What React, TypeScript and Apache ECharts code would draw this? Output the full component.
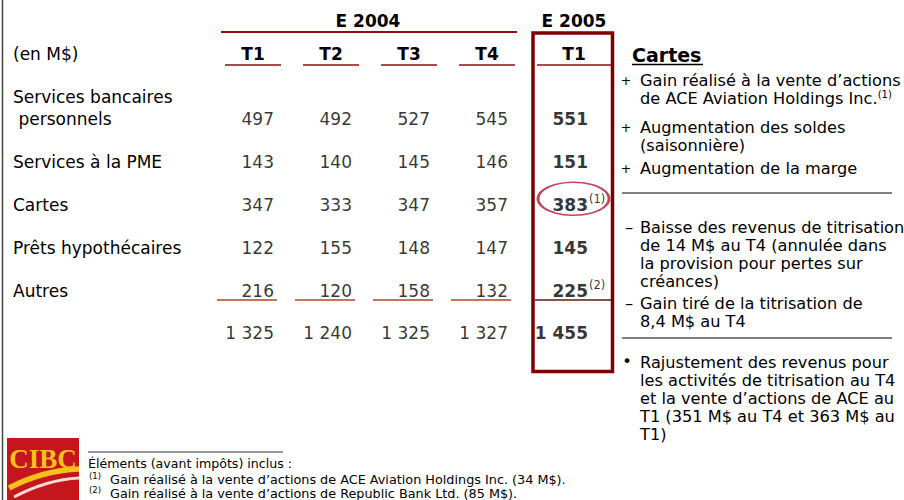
import React, { useEffect, useRef } from 'react';
import * as echarts from 'echarts';

// ---------- data ----------
const groupLabels = ['E 2004', 'E 2005'];
const quarters2004 = ['T1', 'T2', 'T3', 'T4'];
const quarters2005 = ['T1'];
const rowLabels = ['Services bancaires\n personnels', 'Services à la PME', 'Cartes', 'Prêts hypothécaires', 'Autres', 'Total'];
const bancaires2004 = [497, 492, 527, 545];
const pme2004 = [143, 140, 145, 146];
const cartes2004 = [347, 333, 347, 357];
const prets2004 = [122, 155, 148, 147];
const autres2004 = [216, 120, 158, 132];
const total2004 = [1325, 1240, 1325, 1327];
const values2005T1 = [551, 151, 383, 145, 225, 1455];
const footnoteRows = [2, 4];
const footnoteMarks = ['(1)', '(2)'];
const highlightRow = 2;

const notesTitle = 'Cartes';
const notesPlus = [
  ['Gain réalisé à la vente d’actions', 'de ACE Aviation Holdings Inc.'],
  ['Augmentation des soldes', '(saisonnière)'],
  ['Augmentation de la marge'],
];
const notesMinus = [
  ['Baisse des revenus de titrisation', 'de 14 M$ au T4 (annulée dans', 'la provision pour pertes sur', 'créances)'],
  ['Gain tiré de la titrisation de', '8,4 M$ au T4'],
];
const notesBullet = ['Rajustement des revenus pour', 'les activités de titrisation au T4', 'et la vente d’actions de ACE au', 'T1 (351 M$ au T4 et 363 M$ au', 'T1)'];
const footTitle = 'Éléments (avant impôts) inclus :';
const footNotes = [
  'Gain réalisé à la vente d’actions de ACE Aviation Holdings Inc. (34 M$).',
  'Gain réalisé à la vente d’actions de Republic Bank Ltd. (85 M$).',
];

// ---------- layout ----------
const FONT = 'DejaVu Sans';
const G1_LEFT = 214;
const COL_W = 78;
const G2_LEFT = 535;
const TOP = 97.5;
const ROW_H = 42.9;
const DARK_RED = '#7d0000';
const LINE_RED = '#920f0f';

const fmt = (v: number) => String(v).replace(/\B(?=(\d{3})+(?!\d))/g, ' ');

export default function App() {
  const ref = useRef<HTMLDivElement>(null);
  useEffect(() => {
    if (!ref.current) return;
    const chart = echarts.init(ref.current, undefined, { renderer: 'svg' });
    const values2004 = [bancaires2004, pme2004, cartes2004, prets2004, autres2004, total2004];
    const data1: any[] = [];
    values2004.forEach((row, ri) => row.forEach((v, qi) => data1.push([qi, ri, v])));
    const data2 = values2005T1.map((v, ri) => [0, ri, v]);
    const foot = footnoteRows.map((r, i) => [0, r, footnoteMarks[i]]);

    const colCenter = (i: number) => G1_LEFT + COL_W * (i + 0.5);
    const c5 = G2_LEFT + COL_W / 2;

    const graphics: any[] = [];
    const line = (x1: number, y1: number, x2: number, y2: number, stroke: string, lw: number) =>
      graphics.push({ type: 'line', shape: { x1, y1, x2, y2 }, style: { stroke, lineWidth: lw }, silent: true });
    const text = (t: string, x: number, y: number, o: any = {}) =>
      graphics.push({ type: 'text', x, y, style: { text: t, fontFamily: FONT, fontSize: 17, fill: '#000', align: 'left', verticalAlign: 'middle', ...o }, silent: true });

    // left border
    line(2.5, 0, 2.5, 500, '#444', 1.5);
    // group headers
    text(groupLabels[0], (G1_LEFT + G1_LEFT + 4 * COL_W) / 2 - 2, 21, { fontWeight: 'bold', align: 'center' });
    text(groupLabels[1], c5, 21, { fontWeight: 'bold', align: 'center' });
    line(221, 32, 517, 32, LINE_RED, 2);
    // quarter header underlines
    quarters2004.forEach((_, i) => line(colCenter(i) - 28, 65, colCenter(i) + 28, 65, LINE_RED, 1.5));
    line(c5 - 37, 65, c5 + 37, 65, LINE_RED, 1.5);
    // (en M$)
    text('(en M$)', 13, 54);
    // sums underlines
    quarters2004.forEach((_, i) => line(colCenter(i) - 36, 300, colCenter(i) + 24, 300, '#b4441c', 1.5));
    line(c5 - 39, 300, c5 + 37, 300, '#5e1a0c', 1.5);
    // box
    graphics.push({ type: 'rect', shape: { x: 533, y: 33, width: 79.5, height: 338.5 }, style: { fill: 'none', stroke: DARK_RED, lineWidth: 3.5 }, silent: true, z: 10 });

    // notes panel
    text(notesTitle, 632, 55, { fontWeight: 'bold', fontSize: 19 });
    line(632, 64.5, 703, 64.5, '#000', 1.5);
    const NX = 640;
    const NS = 18.2;
    const NF = 16.2;
    const plusY = [80, 127, 168];
    notesPlus.forEach((blk, bi) => {
      const y = plusY[bi];
      text('+', 626, y, { fontSize: 13, align: 'center' });
      blk.forEach((l, li) => {
        if (bi === 0 && li === 1) {
          graphics.push({ type: 'text', x: NX, y: y + li * NS, style: { text: '{n|' + l + '}{s|(1)}', fontFamily: FONT, fill: '#000', verticalAlign: 'middle', rich: { n: { fontSize: NF, fontFamily: FONT, lineHeight: 18 }, s: { fontSize: 10, fontFamily: FONT, verticalAlign: 'top', lineHeight: 12 } } }, silent: true });
        } else {
          text(l, NX, y + li * NS, { fontSize: NF });
        }
      });
    });
    line(622, 193, 892, 193, '#808080', 2);
    const minusY = [227, 303.5];
    notesMinus.forEach((blk, bi) => {
      const y = minusY[bi];
      text('–', 629, y, { fontSize: NF, align: 'center' });
      blk.forEach((l, li) => text(l, NX, y + li * 18.3, { fontSize: NF }));
    });
    line(622, 338, 892, 338, '#808080', 2);
    text('•', 627, 361, { fontSize: NF, align: 'center' });
    notesBullet.forEach((l, li) => text(l, NX, 362 + li * 18, { fontSize: NF }));

    // footer
    line(88, 452, 283, 452, '#333', 1);
    text(footTitle, 88, 463.5, { fontSize: 12.6, lineHeight: 13 });
    footNotes.forEach((f, i) => {
      text(footnoteMarks[i], 89, 475.5 + i * 14, { fontSize: 8.5 });
      text(f, 110, 479 + i * 14, { fontSize: 12.8, lineHeight: 13 });
    });

    // logo
    graphics.push({ type: 'rect', shape: { x: 7, y: 438, width: 72, height: 62 }, style: { fill: '#c4161c' }, silent: true });
    graphics.push({ type: 'text', x: 43, y: 459, style: { text: 'CIBC', fontFamily: 'Liberation Serif', fontWeight: 'bold', fontSize: 27, fill: '#f6c21a', align: 'center', verticalAlign: 'middle' }, silent: true });
    graphics.push({ type: 'bezierCurve', shape: { x1: 9, y1: 488, cpx1: 30, cpy1: 477, cpx2: 55, cpy2: 470, x2: 79, y2: 469 }, style: { stroke: '#f6c21a', lineWidth: 5.5, fill: 'none' }, silent: true });
    graphics.push({ type: 'bezierCurve', shape: { x1: 14, y1: 497, cpx1: 35, cpy1: 486, cpx2: 58, cpy2: 479, x2: 79, y2: 478 }, style: { stroke: '#f8dcd4', lineWidth: 3, fill: 'none' }, silent: true });

    const hiddenAxis = { axisLine: { show: false }, axisTick: { show: false }, splitLine: { show: false } };
    chart.setOption({
      animation: false,
      backgroundColor: '#fff',
      textStyle: { fontFamily: FONT },
      grid: [
        { left: G1_LEFT, top: TOP, width: COL_W * 4, height: ROW_H * 6 },
        { left: G2_LEFT, top: TOP, width: COL_W, height: ROW_H * 6 },
      ],
      xAxis: [
        { type: 'category', gridIndex: 0, position: 'top', data: quarters2004, ...hiddenAxis,
          axisLabel: { interval: 0, fontSize: 17, fontWeight: 'bold', color: '#000', margin: TOP - 54, verticalAlign: 'middle' } },
        { type: 'category', gridIndex: 1, position: 'top', data: quarters2005, ...hiddenAxis,
          axisLabel: { interval: 0, fontSize: 17, fontWeight: 'bold', color: '#000', margin: TOP - 54, verticalAlign: 'middle' } },
      ],
      yAxis: [
        { type: 'category', gridIndex: 0, inverse: true, data: rowLabels, ...hiddenAxis,
          axisLabel: { interval: 0, fontSize: 17, color: '#000', align: 'left', margin: G1_LEFT - 13, lineHeight: 22,
            formatter: (v: string, i: number) => (i === 0 ? v + '\n\u00a0' : i === rowLabels.length - 1 ? '' : v) } },
        { type: 'category', gridIndex: 1, inverse: true, data: rowLabels, ...hiddenAxis, axisLabel: { show: false } },
      ],
      graphic: graphics,
      series: [
        { type: 'scatter', xAxisIndex: 0, yAxisIndex: 0, data: data1, symbolSize: 1, itemStyle: { color: 'rgba(0,0,0,0)' },
          label: { show: true, position: 'inside', align: 'right', offset: [21, 0], fontSize: 17, color: '#000', formatter: (p: any) => fmt(p.value[2]) } },
        { type: 'scatter', xAxisIndex: 1, yAxisIndex: 1, data: [[0, highlightRow]], symbol: 'circle', symbolSize: [71, 33], symbolOffset: [-0.5, -6],
          itemStyle: { color: 'rgba(0,0,0,0)', borderColor: '#b0162e', borderWidth: 2 }, z: 1 },
        { type: 'scatter', xAxisIndex: 1, yAxisIndex: 1, data: data2, symbolSize: 1, itemStyle: { color: 'rgba(0,0,0,0)' }, z: 3,
          label: { show: true, position: 'inside', align: 'right', offset: [14, 0], fontSize: 17, fontWeight: 'bold', color: '#000', formatter: (p: any) => fmt(p.value[2]) } },
        { type: 'scatter', xAxisIndex: 1, yAxisIndex: 1, data: foot, symbolSize: 1, itemStyle: { color: 'rgba(0,0,0,0)' }, z: 3,
          label: { show: true, position: 'inside', align: 'left', offset: [15, -6], fontSize: 11.5, color: '#000', formatter: (p: any) => p.value[2] } },
      ],
    });
    return () => chart.dispose();
  }, []);
  return <div ref={ref} style={{ position: 'absolute', left: 0, top: 0, width: 904, height: 500, background: '#fff' }} />;
}
